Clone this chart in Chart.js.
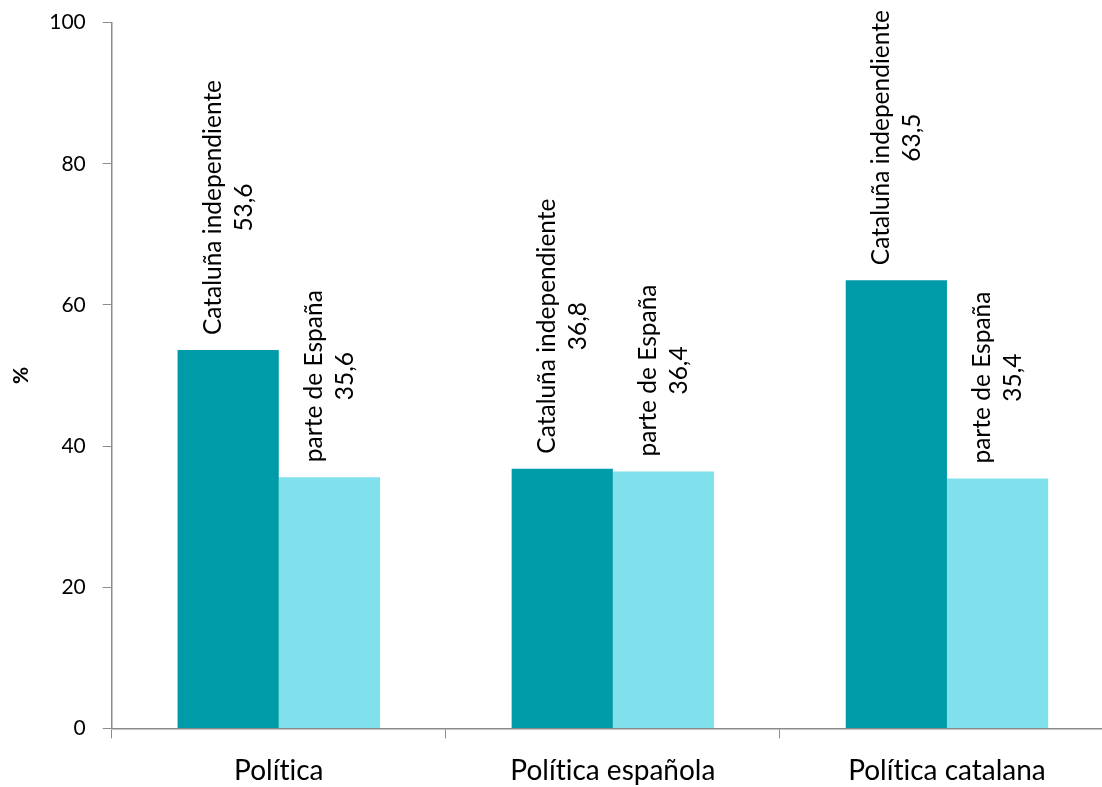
<!DOCTYPE html>
<html>
<head>
<meta charset="utf-8">
<script src="https://cdn.jsdelivr.net/npm/chart.js@4.4.0/dist/chart.umd.min.js"></script>
<style>
  html, body { margin: 0; padding: 0; background: #fff; overflow: hidden; }
  #wrap { width: 1114px; height: 811px; position: relative; top: -7px; }
</style>
</head>
<body>
<div id="wrap"><canvas id="chart"></canvas></div>
<script>
// categories and series
const categories = ['Política', 'Política española', 'Política catalana'];
const independiente = [53.6, 36.8, 63.5];
const parteEspana = [35.6, 36.4, 35.4];
const seriesNames = ['Cataluña independiente', 'parte de España'];
const yTicks = [0, 20, 40, 60, 80, 100];

const FONT = 'Lato, "Open Sans", sans-serif';
const AXIS_GREY = '#8c8c8c';

// no "ti" ligature like in the original
const noLigatures = {
  id: 'noLigatures',
  beforeDraw(chart) { chart.ctx.textRendering = 'optimizeSpeed'; }
};

// draws rotated two-line labels (series name + value) above each bar
const barLabels = {
  id: 'barLabels',
  afterDatasetsDraw(chart) {
    const ctx = chart.ctx;
    ctx.save();
    ctx.font = '24.5px ' + FONT;
    ctx.fillStyle = '#000';
    ctx.textAlign = 'center';
    ctx.textBaseline = 'middle';
    chart.data.datasets.forEach((ds, di) => {
      const meta = chart.getDatasetMeta(di);
      meta.data.forEach((bar, i) => {
        const lines = [ds.label, ds.data[i].toFixed(1).replace('.', ',')];
        const w = Math.max(...lines.map(l => ctx.measureText(l).width));
        const cy = bar.y - 15 - w / 2;
        ctx.save();
        ctx.translate(bar.x, cy);
        ctx.rotate(-Math.PI / 2);
        ctx.fillText(lines[0], 0, -15);
        ctx.fillText(lines[1], 0, 16);
        ctx.restore();
      });
    });
    ctx.restore();
  }
};

new Chart(document.getElementById('chart'), {
  type: 'bar',
  data: {
    labels: categories,
    datasets: [
      { label: seriesNames[0], data: independiente, backgroundColor: '#009ba8' },
      { label: seriesNames[1], data: parteEspana, backgroundColor: '#80e1ed' }
    ]
  },
  options: {
    responsive: true,
    maintainAspectRatio: false,
    animation: false,
    layout: { padding: { top: 0, left: 9, right: 0, bottom: 0 } },
    datasets: { bar: { categoryPercentage: 0.606, barPercentage: 1.0 } },
    plugins: {
      legend: { display: false },
      tooltip: { enabled: false }
    },
    scales: {
      x: {
        grid: { display: true, drawOnChartArea: false, drawTicks: true, tickLength: 10, color: AXIS_GREY, offset: true },
        border: { color: AXIS_GREY, width: 1.5 },
        ticks: { color: '#000', font: { family: FONT, size: 28 }, padding: 16 }
      },
      y: {
        min: 0, max: 100,
        afterBuildTicks(axis) { axis.ticks = yTicks.map(v => ({ value: v })); },
        grid: { display: true, drawOnChartArea: false, drawTicks: true, tickLength: 9, color: AXIS_GREY },
        border: { color: AXIS_GREY, width: 1.5 },
        ticks: { color: '#000', font: { family: FONT, size: 21 }, padding: 17 },
        title: { display: true, text: '%', color: '#000', font: { family: FONT, size: 21, weight: 'bold' }, padding: { top: 0, bottom: -2 } }
      }
    }
  },
  plugins: [noLigatures, barLabels]
});
</script>
</body>
</html>
